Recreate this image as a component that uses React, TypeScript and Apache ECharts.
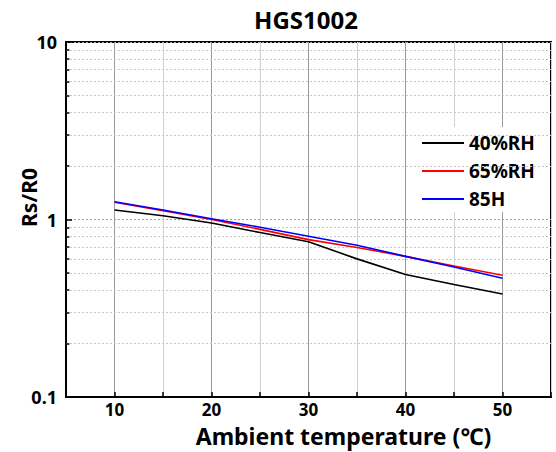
import React, { useEffect, useRef } from "react";
import * as echarts from "echarts";

const temperatures = [10, 15, 20, 25, 30, 35, 40, 45, 50];
const rh40 = [1.13, 1.05, 0.955, 0.845, 0.75, 0.6, 0.49, 0.43, 0.38];
const rh65 = [1.25, 1.12, 1.0, 0.88, 0.77, 0.695, 0.62, 0.547, 0.485];
const rh85 = [1.26, 1.13, 1.01, 0.905, 0.805, 0.716, 0.62, 0.54, 0.467];
const seriesNames = ["40%RH", "65%RH", "85H"];
const seriesColors = ["#000000", "#ff0000", "#0000ff"];
const xTickLabels = [10, 20, 30, 40, 50];
const yTickLabels = [0.1, 1, 10];
const yMinorValues = [0.2, 0.3, 0.4, 0.5, 0.6, 0.7, 0.8, 0.9, 2, 3, 4, 5, 6, 7, 8, 9];

const FONT = "'Noto Sans', 'Open Sans', sans-serif";

export default function App() {
  const ref = useRef<HTMLDivElement>(null);
  useEffect(() => {
    if (!ref.current) return;
    const chart = echarts.init(ref.current, undefined, { renderer: "svg" });
    const mk = (vals: number[]) => temperatures.map((t, i) => [t, vals[i]]);
    const datasets = [rh40, rh65, rh85];
    const series: any[] = datasets.map((d, i) => ({
      name: seriesNames[i],
      type: "line",
      data: mk(d),
      showSymbol: false,
      symbol: "none",
      lineStyle: { color: seriesColors[i], width: 1.6 },
      itemStyle: { color: seriesColors[i] },
      z: 5 + i,
    }));
    series.push({
      name: "_minor",
      type: "line",
      data: [],
      silent: true,
      markLine: {
        silent: true,
        symbol: "none",
        label: { show: false },
        lineStyle: { color: "#c8c8c8", type: [2, 2], width: 1 },
        data: yMinorValues.map((v) => ({ yAxis: v })),
      },
    });
    series.push({
      name: "_minorTicks",
      type: "line",
      data: [],
      silent: true,
      markLine: {
        silent: true,
        symbol: "none",
        label: { show: false },
        lineStyle: { color: "#000", type: "solid", width: 1.5 },
        data: yMinorValues.map((v) => [
          { coord: [5, v] },
          { coord: [5.35, v] },
        ]),
      },
    });
    chart.setOption({
      animation: false,
      backgroundColor: "#fff",
      title: {
        text: "HGS1002",
        left: 301,
        textAlign: "center",
        top: 2,
        textStyle: { fontFamily: FONT, fontWeight: "bold", fontSize: 24, color: "#000" },
      },
      legend: {
        orient: "vertical",
        left: 415,
        top: 127,
        data: seriesNames,
        icon: "rect",
        itemWidth: 42,
        itemHeight: 2,
        itemGap: 6,
        backgroundColor: "#fff",
        padding: [5, 8, 2, 7],
        textStyle: { fontFamily: FONT, fontWeight: "bold", fontSize: 19, color: "#000", lineHeight: 22 },
      },
      grid: {
        left: 66,
        right: 5,
        top: 42,
        bottom: 55,
        show: true,
        borderColor: "#000",
        borderWidth: 2,
        outerBoundsMode: "none",
        containLabel: false,
      },
      xAxis: {
        type: "value",
        min: 5,
        max: 55,
        interval: 5,
        name: "Ambient temperature (℃)",
        nameLocation: "middle",
        nameGap: 27,
        nameMoveOverlap: false,
        nameTextStyle: {
          fontFamily: FONT,
          fontWeight: "bold",
          fontSize: 23,
          lineHeight: 24,
          color: "#000",
          padding: [0, 0, 0, 70],
        },
        axisLine: { show: true, lineStyle: { color: "#000", width: 2 } },
        axisTick: { show: true, inside: true, length: 5, lineStyle: { color: "#000", width: 1.5 } },
        axisLabel: {
          fontFamily: FONT,
          fontWeight: "bold",
          fontSize: 17,
          lineHeight: 16,
          color: "#000",
          margin: 4,
          formatter: (v: number) => (xTickLabels.includes(v) ? String(v) : ""),
        },
        splitLine: { show: true, lineStyle: { color: ["#d0d0d0", "#9a9a9a"], width: 1 } },
      },
      yAxis: {
        type: "log",
        logBase: 10,
        min: 0.1,
        max: 10,
        interval: 1,
        name: "Rs/R0",
        nameLocation: "middle",
        nameRotate: 90,
        nameGap: 25,
        nameMoveOverlap: false,
        nameTextStyle: {
          fontFamily: FONT,
          fontWeight: "bold",
          fontSize: 21,
          lineHeight: 24,
          color: "#000",
          padding: [0, 0, 0, 44],
        },
        axisLine: { show: true, lineStyle: { color: "#000", width: 2 } },
        axisTick: { show: true, inside: true, length: 6, lineStyle: { color: "#000", width: 1.5 } },
        axisLabel: {
          fontFamily: FONT,
          fontWeight: "bold",
          fontSize: 18,
          color: "#000",
          margin: 9,
          formatter: (v: number) => {
            const m = yTickLabels.find((t) => Math.abs(t - v) < 1e-6);
            return m !== undefined ? String(m) : "";
          },
        },
        splitLine: { show: true, lineStyle: { color: "#a0a0a0", type: [2, 2], width: 1 } },
        minorTick: { show: false },
      },
      series,
    });
    return () => chart.dispose();
  }, []);
  return (
    <div
      ref={ref}
      style={{ position: "fixed", left: 0, top: 0, width: 556, height: 452 }}
    />
  );
}
